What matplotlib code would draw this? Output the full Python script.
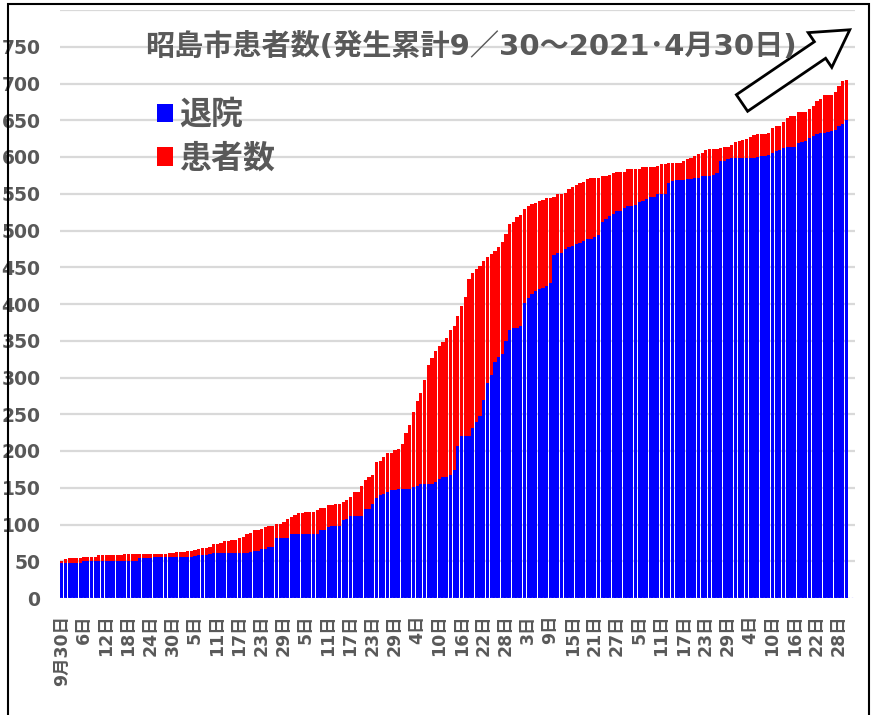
import matplotlib
matplotlib.use('Agg')
import matplotlib.pyplot as plt
import matplotlib.patches as mpatches
import numpy as np

plt.rcParams['font.family'] = ['DejaVu Sans', 'Noto Sans CJK JP']

# cumulative cases (total bar height) and discharged (blue part), 9/30 .. 4/30
total = [
    50, 53, 55, 55, 55, 55, 56, 56, 56, 56,
    58, 58, 58, 58, 58, 58, 58, 60, 60, 60,
    60, 60, 60, 60, 60, 60, 60, 60, 60, 61,
    61, 62, 62, 63, 64, 64, 65, 67, 68, 68,
    70, 74, 74, 75, 78, 78, 79, 79, 81, 83,
    87, 89, 92, 92, 94, 97, 98, 98, 101, 101,
    104, 107, 110, 113, 115, 115, 117, 117, 117, 120,
    123, 123, 126, 126, 128, 128, 130, 134, 137, 144,
    144, 153, 161, 165, 168, 185, 187, 192, 197, 197,
    201, 203, 210, 224, 236, 253, 268, 279, 297, 317,
    327, 336, 343, 348, 354, 364, 370, 384, 397, 410,
    434, 442, 447, 452, 458, 464, 468, 472, 477, 484,
    495, 509, 511, 518, 521, 529, 533, 536, 537, 540,
    542, 544, 544, 545, 550, 550, 551, 557, 559, 562,
    564, 566, 570, 571, 571, 571, 574, 574, 576, 578,
    580, 580, 580, 583, 583, 583, 583, 586, 586, 586,
    586, 588, 590, 590, 592, 592, 592, 592, 594, 597,
    598, 602, 604, 606, 610, 611, 611, 611, 612, 613,
    613, 617, 621, 622, 623, 624, 627, 630, 631, 631,
    631, 633, 639, 642, 642, 648, 653, 656, 656, 661,
    661, 661, 665, 669, 676, 679, 684, 684, 684, 689,
    697, 704, 705,
]
discharged = [
    47, 48, 48, 48, 48, 48, 51, 51, 51, 51,
    51, 51, 51, 51, 51, 51, 51, 51, 51, 51,
    51, 55, 55, 55, 55, 56, 56, 56, 56, 56,
    56, 56, 56, 56, 56, 56, 57, 58, 58, 58,
    60, 61, 61, 61, 61, 61, 61, 61, 61, 61,
    61, 63, 64, 64, 67, 67, 69, 69, 81, 81,
    81, 81, 87, 87, 87, 87, 87, 87, 87, 87,
    92, 92, 96, 98, 98, 98, 106, 108, 111, 111,
    111, 112, 121, 121, 128, 136, 140, 142, 144, 147,
    147, 148, 148, 148, 148, 151, 152, 155, 155, 155,
    155, 158, 162, 165, 165, 167, 174, 207, 221, 221,
    221, 231, 239, 248, 270, 292, 303, 321, 328, 332,
    350, 364, 367, 367, 370, 401, 408, 413, 418, 421,
    422, 425, 429, 466, 469, 470, 475, 478, 479, 482,
    483, 486, 489, 489, 491, 494, 512, 516, 520, 523,
    526, 527, 530, 533, 533, 535, 539, 540, 543, 545,
    545, 549, 550, 550, 564, 567, 569, 569, 569, 570,
    570, 571, 572, 574, 574, 574, 575, 578, 594, 595,
    597, 598, 598, 598, 598, 598, 598, 598, 600, 601,
    601, 603, 606, 608, 610, 612, 613, 614, 614, 619,
    621, 622, 626, 629, 631, 633, 633, 634, 635, 637,
    642, 645, 651,
]
# every 6th day gets a label
tick_labels = ['9月30日', '6日', '12日', '18日', '24日', '30日',
               '5日', '11日', '17日', '23日', '29日',
               '5日', '11日', '17日', '23日', '29日',
               '4日', '10日', '16日', '22日', '28日',
               '3日', '9日', '15日', '21日', '27日',
               '5日', '11日', '17日', '23日', '29日',
               '4日', '10日', '16日', '22日', '28日']

title = '昭島市患者数(発生累計9／30～2021･4月30日)'
gray = '#595959'

total = np.array(total)
discharged = np.array(discharged)
x = np.arange(len(total))

fig = plt.figure(figsize=(8.72, 7.15), dpi=100)
ax = fig.add_axes([60/872, 117/715, 795/872, 588/715])

b1 = ax.bar(x, discharged, width=0.88, color='#0000ff', label='退院', zorder=2)
b2 = ax.bar(x, total - discharged, bottom=discharged, width=0.88,
            color='#ff0000', label='患者数', zorder=2)

ax.set_xlim(-0.5, 214.3)
ax.set_ylim(0, 800)
ax.set_yticks(np.arange(0, 751, 50))
for v in np.arange(50, 801, 50):
    ax.axhline(v, color='#d9d9d9', lw=1.6, zorder=1)
ax.axhline(0, color='#9999ff', lw=1, ls=':', zorder=3)

ax.set_xticks(x[::6])
ax.set_xticklabels(tick_labels, rotation=90)
ax.tick_params(axis='x', length=0, pad=12, labelsize=12.5, labelcolor=gray)
ax.tick_params(axis='y', length=0, pad=14, labelsize=13.5, labelcolor=gray)
for lab in ax.get_xticklabels() + ax.get_yticklabels():
    lab.set_fontweight('bold')
for s in ax.spines.values():
    s.set_visible(False)

fig.text(145/872, 1 - 47/715, title, fontsize=21, fontweight='bold',
         color=gray, ha='left', va='center')

leg = ax.legend(handles=[b1, b2], loc='upper left',
                bbox_to_anchor=(157/872, 1 - 100/715), bbox_transform=fig.transFigure,
                frameon=False, borderpad=0, borderaxespad=0,
                handlelength=0.5, handleheight=0.5, handletextpad=0.2,
                labelspacing=0.4,
                prop={'size': 23, 'weight': 'bold'}, labelcolor=gray)

# white block arrow at top right
arr = mpatches.FancyArrow(7.42, 6.12, 0.78, 0.53, width=0.20, head_width=0.42,
                          head_length=0.36, length_includes_head=False,
                          facecolor='white', edgecolor='black', lw=2,
                          transform=fig.dpi_scale_trans)
fig.add_artist(arr)

# outer frame
frame = mpatches.Rectangle((8/872, -0.05), (869-8)/872, 1.05 - 4/715,
                           transform=fig.transFigure, fill=False,
                           edgecolor='black', lw=1.5)
fig.add_artist(frame)

fig.savefig('out.png', dpi=100)
